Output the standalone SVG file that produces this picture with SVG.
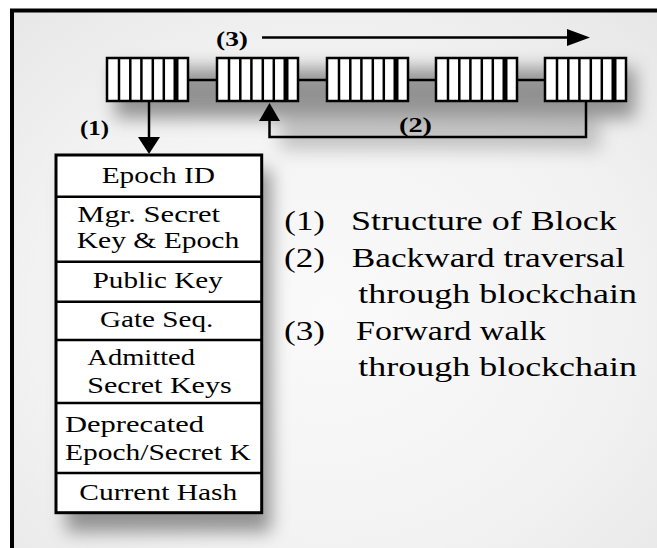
<svg xmlns="http://www.w3.org/2000/svg" xmlns:xlink="http://www.w3.org/1999/xlink" width="657" height="548" viewBox="0 0 657 548">
<defs>
<style>
.ln{stroke:#000;stroke-width:2.5;fill:none}
.ah{fill:#000}
.lbl{font-family:"Liberation Serif","Times New Roman",serif;font-weight:bold;font-size:21px;fill:#000}
.bt{font-family:"Liberation Serif","Times New Roman",serif;font-size:23.5px;fill:#000}
.lg{font-family:"Liberation Serif","Times New Roman",serif;font-size:28px;fill:#000}
.cell{fill:#fff;stroke:#000;stroke-width:2.5}
</style>
<filter id="blur" x="-30%" y="-30%" width="160%" height="160%"><feGaussianBlur stdDeviation="9"/></filter>
<radialGradient id="bg" cx="0.45" cy="0.5" r="0.7">
<stop offset="0" stop-color="#fafafa"/>
<stop offset="0.6" stop-color="#f2f2f2"/>
<stop offset="1" stop-color="#e6e6e6"/>
</radialGradient>
<g id="blk">
<rect class="cell" x="0" y="0" width="81" height="43"/>
<line class="ln" x1="12" y1="0" x2="12" y2="43"/>
<line class="ln" x1="23.3" y1="0" x2="23.3" y2="43"/>
<line class="ln" x1="34.4" y1="0" x2="34.4" y2="43"/>
<line class="ln" x1="45.8" y1="0" x2="45.8" y2="43"/>
<line class="ln" x1="56.8" y1="0" x2="56.8" y2="43"/>
<line x1="69" y1="0" x2="69" y2="43" stroke="#000" stroke-width="5"/>
</g>
</defs>
<rect x="0" y="0" width="657" height="548" fill="#ffffff"/>
<rect x="12" y="10.5" width="700" height="600" fill="url(#bg)"/>
<g id="shadows" filter="url(#blur)" fill="#6a6a6a" opacity="0.7">
<rect x="66" y="170" width="205" height="362"/>
<rect x="115" y="68" width="520" height="50"/>
<rect x="280" y="120" width="320" height="30" opacity="0.5"/>
</g>
<rect x="12" y="10.5" width="700" height="600" fill="none" stroke="#000" stroke-width="4"/>

<g id="connectors">
<line class="ln" x1="188" y1="80" x2="217" y2="80"/>
<line class="ln" x1="298" y1="80" x2="327" y2="80"/>
<line class="ln" x1="408" y1="80" x2="436" y2="80"/>
<line class="ln" x1="517" y1="80" x2="545" y2="80"/>
<line class="ln" x1="262" y1="37.5" x2="572" y2="37.5"/>
<polygon class="ah" points="567,29 590,37.5 567,46"/>
<line class="ln" x1="149" y1="101" x2="149" y2="140"/>
<polygon class="ah" points="138,137 160,137 149,154"/>
<polyline class="ln" points="586,101 586,137 269.5,137 269.5,118"/>
<polygon class="ah" points="259,121 280,121 269.5,103"/>
<text class="lbl" x="216" y="46" textLength="32" lengthAdjust="spacingAndGlyphs">(3)</text>
<text class="lbl" x="80" y="135" textLength="29" lengthAdjust="spacingAndGlyphs">(1)</text>
<text class="lbl" x="399" y="132" textLength="33" lengthAdjust="spacingAndGlyphs">(2)</text>
</g>

<g id="block1"><use xlink:href="#blk" x="107" y="58"/></g>
<g id="block2"><use xlink:href="#blk" x="217" y="58"/></g>
<g id="block3"><use xlink:href="#blk" x="327" y="58"/></g>
<g id="block4"><use xlink:href="#blk" x="436" y="58"/></g>
<g id="block5"><use xlink:href="#blk" x="545" y="58"/></g>

<g id="structure">
<rect x="56" y="155" width="205.7" height="357.7" fill="#fff" stroke="#000" stroke-width="3"/>
<line class="ln" x1="56" y1="196.7" x2="261.7" y2="196.7"/>
<line class="ln" x1="56" y1="261.7" x2="261.7" y2="261.7"/>
<line class="ln" x1="56" y1="301.7" x2="261.7" y2="301.7"/>
<line class="ln" x1="56" y1="340" x2="261.7" y2="340"/>
<line class="ln" x1="56" y1="403" x2="261.7" y2="403"/>
<line class="ln" x1="56" y1="473" x2="261.7" y2="473"/>
<text class="bt" x="101.7" y="183.3" textLength="113.3" lengthAdjust="spacingAndGlyphs">Epoch ID</text>
<text class="bt" x="77.3" y="221.7" textLength="142.7" lengthAdjust="spacingAndGlyphs">Mgr. Secret</text>
<text class="bt" x="76.7" y="248.3" textLength="162.6" lengthAdjust="spacingAndGlyphs">Key &amp; Epoch</text>
<text class="bt" x="92.7" y="288.3" textLength="130" lengthAdjust="spacingAndGlyphs">Public Key</text>
<text class="bt" x="100" y="326.7" textLength="113.3" lengthAdjust="spacingAndGlyphs">Gate Seq.</text>
<text class="bt" x="87.3" y="365" textLength="107.7" lengthAdjust="spacingAndGlyphs">Admitted</text>
<text class="bt" x="87.3" y="392.7" textLength="144.4" lengthAdjust="spacingAndGlyphs">Secret Keys</text>
<text class="bt" x="65" y="431.7" textLength="139" lengthAdjust="spacingAndGlyphs">Deprecated</text>
<text class="bt" x="65" y="460" textLength="185.7" lengthAdjust="spacingAndGlyphs">Epoch/Secret K</text>
<text class="bt" x="79.3" y="500" textLength="158" lengthAdjust="spacingAndGlyphs">Current Hash</text>
</g>

<g id="legend">
<text class="lg" x="284.3" y="230" textLength="40.7" lengthAdjust="spacingAndGlyphs">(1)</text>
<text class="lg" x="351" y="230" textLength="265.7" lengthAdjust="spacingAndGlyphs">Structure of Block</text>
<text class="lg" x="284" y="267" textLength="41" lengthAdjust="spacingAndGlyphs">(2)</text>
<text class="lg" x="351.7" y="267" textLength="273.3" lengthAdjust="spacingAndGlyphs">Backward traversal</text>
<text class="lg" x="358.3" y="303" textLength="278.7" lengthAdjust="spacingAndGlyphs">through blockchain</text>
<text class="lg" x="284" y="340" textLength="41" lengthAdjust="spacingAndGlyphs">(3)</text>
<text class="lg" x="356" y="340" textLength="190" lengthAdjust="spacingAndGlyphs">Forward walk</text>
<text class="lg" x="358.3" y="376" textLength="278.7" lengthAdjust="spacingAndGlyphs">through blockchain</text>
</g>
</svg>
